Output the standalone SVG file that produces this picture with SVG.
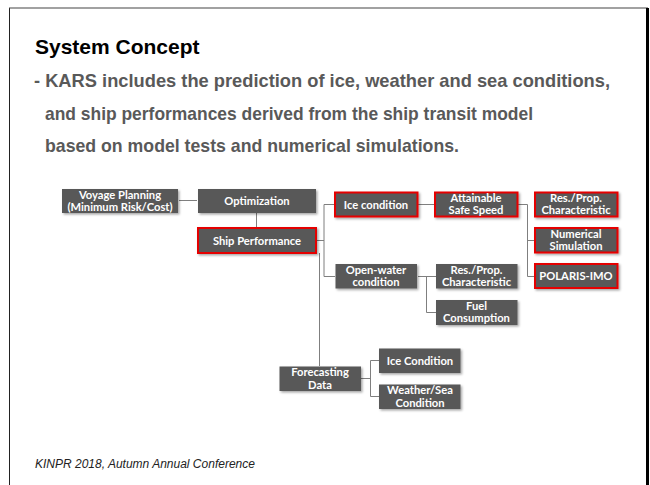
<svg xmlns="http://www.w3.org/2000/svg" width="650" height="485" viewBox="0 0 650 485">
  <defs>
    <filter id="shadow" x="-10%" y="-20%" width="125%" height="150%">
      <feDropShadow dx="1.5" dy="1.5" stdDeviation="1" flood-color="#000" flood-opacity="0.35"/>
    </filter>
  </defs>
  <style>
    .box { fill: #595959; filter: url(#shadow); }
    .hl { stroke: #e50000; stroke-width: 2; }
    .lbl { font-family: Lato, "Open Sans", sans-serif; font-weight: bold; font-size: 11.2px; fill: #ffffff; text-anchor: middle; }
    .conn { fill: none; stroke: #7f7f7f; stroke-width: 1; }
    .title { font-family: "Liberation Sans", Arial, sans-serif; font-weight: bold; font-size: 21px; fill: #000; }
    .body { font-family: "Liberation Sans", Arial, sans-serif; font-weight: bold; font-size: 18.5px; fill: #595959; }
    .foot { font-family: "Liberation Sans", Arial, sans-serif; font-style: italic; font-size: 12px; fill: #222; }
  </style>
  <rect width="650" height="485" fill="#ffffff"/>
  <!-- page frame -->
  <line x1="9.5" y1="8" x2="9.5" y2="485" stroke="#222" stroke-width="1"/>
  <line x1="9" y1="8" x2="648" y2="8" stroke="#444" stroke-width="1.2"/>
  <line x1="647.5" y1="8" x2="647.5" y2="485" stroke="#000" stroke-width="3"/>

  <text class="title" x="35" y="54">System Concept</text>
  <text class="body" x="34" y="87" textLength="576" lengthAdjust="spacingAndGlyphs">- KARS includes the prediction of ice, weather and sea conditions,</text>
  <text class="body" x="45" y="120" textLength="488" lengthAdjust="spacingAndGlyphs">and ship performances derived from the ship transit model</text>
  <text class="body" x="45" y="152" textLength="414" lengthAdjust="spacingAndGlyphs">based on model tests and numerical simulations.</text>
  <text class="foot" x="35" y="468">KINPR 2018, Autumn Annual Conference</text>

  <g id="connectors">
    <path class="conn" d="M179 200.5 H197"/>
    <path class="conn" d="M256.5 213 V228"/>
    <path class="conn" d="M317 240.5 H324 M324 204.5 V276.5 M324 204.5 H335 M324 276.5 H335"/>
    <path class="conn" d="M319.5 253 V366"/>
    <path class="conn" d="M418 204.5 H435"/>
    <path class="conn" d="M518 204.5 H527.5 M527.5 204.5 V276.5 M527.5 240.5 H535 M527.5 276.5 H535"/>
    <path class="conn" d="M418 276.5 H436 M426.5 276.5 V312.5 H436"/>
    <path class="conn" d="M361 378.5 H370.5 M370.5 360.5 V396.5 M370.5 360.5 H379 M370.5 396.5 H379"/>
  </g>

  <g id="voyage-planning">
    <rect class="box" x="62" y="189" width="116" height="24"/>
    <text class="lbl" x="120" y="199">Voyage Planning</text>
    <text class="lbl" x="120" y="210.5">(Minimum Risk/Cost)</text>
  </g>
  <g id="optimization">
    <rect class="box" x="198" y="189" width="118" height="24"/>
    <text class="lbl" x="257" y="205">Optimization</text>
  </g>
  <g id="ship-performance">
    <rect class="box hl" x="198" y="228" width="118" height="25"/>
    <text class="lbl" x="257" y="244.5">Ship Performance</text>
  </g>
  <g id="ice-condition">
    <rect class="box hl" x="335" y="192.5" width="82.5" height="24"/>
    <text class="lbl" x="376" y="208.5">Ice condition</text>
  </g>
  <g id="attainable-safe-speed">
    <rect class="box hl" x="435" y="192.5" width="82.5" height="24"/>
    <text class="lbl" x="476" y="202">Attainable</text>
    <text class="lbl" x="476" y="214">Safe Speed</text>
  </g>
  <g id="res-prop-ice">
    <rect class="box hl" x="535" y="192.5" width="82.5" height="24"/>
    <text class="lbl" x="576" y="202">Res./Prop.</text>
    <text class="lbl" x="576" y="214">Characteristic</text>
  </g>
  <g id="numerical-simulation">
    <rect class="box hl" x="535" y="228" width="82.5" height="24.5"/>
    <text class="lbl" x="576" y="237.5">Numerical</text>
    <text class="lbl" x="576" y="249.5">Simulation</text>
  </g>
  <g id="polaris-imo">
    <rect class="box hl" x="535" y="264" width="82.5" height="24"/>
    <text class="lbl" x="576" y="280">POLARIS-IMO</text>
  </g>
  <g id="open-water-condition">
    <rect class="box" x="335.5" y="264" width="81.5" height="24.5"/>
    <text class="lbl" x="376" y="273.5">Open-water</text>
    <text class="lbl" x="376" y="285.5">condition</text>
  </g>
  <g id="res-prop-open-water">
    <rect class="box" x="436" y="264" width="81.5" height="24.5"/>
    <text class="lbl" x="476.5" y="273.5">Res./Prop.</text>
    <text class="lbl" x="476.5" y="285.5">Characteristic</text>
  </g>
  <g id="fuel-consumption">
    <rect class="box" x="436" y="300" width="81.5" height="25"/>
    <text class="lbl" x="476.5" y="309.5">Fuel</text>
    <text class="lbl" x="476.5" y="322">Consumption</text>
  </g>
  <g id="forecasting-data">
    <rect class="box" x="279.5" y="366.5" width="81.5" height="24.5"/>
    <text class="lbl" x="320" y="376">Forecasting</text>
    <text class="lbl" x="320" y="388.5">Data</text>
  </g>
  <g id="ice-condition-forecast">
    <rect class="box" x="379" y="348.5" width="81.5" height="24.5"/>
    <text class="lbl" x="420" y="364.5">Ice Condition</text>
  </g>
  <g id="weather-sea-condition">
    <rect class="box" x="379" y="384.5" width="81.5" height="24.5"/>
    <text class="lbl" x="420" y="394">Weather/Sea</text>
    <text class="lbl" x="420" y="406.5">Condition</text>
  </g>
</svg>
